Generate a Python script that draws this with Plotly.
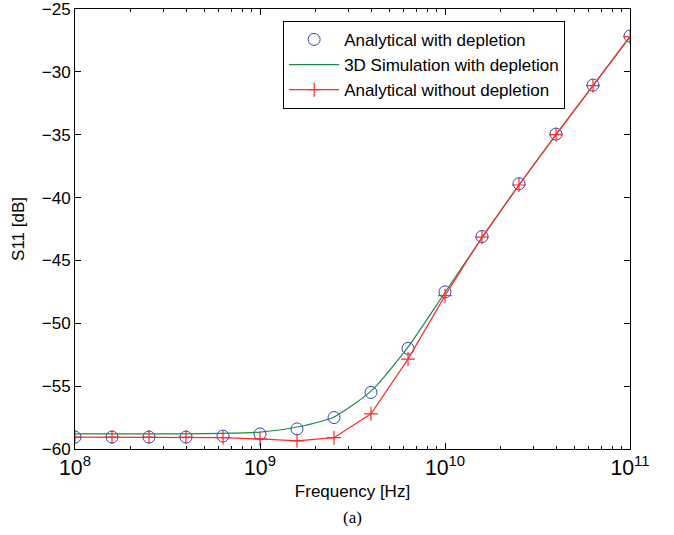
import plotly.graph_objects as go

freq_exp = [8.0, 8.2, 8.4, 8.6, 8.8, 9.0, 9.2, 9.4, 9.6, 9.8, 10.0, 10.2, 10.4, 10.6, 10.8, 11.0]
freq_hz = [10 ** e for e in freq_exp]

analytical_dep = [-59.05, -59.05, -59.05, -59.05, -58.97, -58.8, -58.4, -57.5, -55.5, -52.0,
                  -47.5, -43.1, -38.9, -34.95, -31.05, -27.15]
sim_dep = [-58.8, -58.8, -58.8, -58.8, -58.75, -58.65, -58.25, -57.45, -55.4, -51.9,
           -47.55, -43.2, -39.0, -35.0, -31.1, -27.2]
analytical_nodep = [-59.05, -59.05, -59.05, -59.05, -59.1, -59.2, -59.35, -59.1, -57.2, -52.85,
                    -47.8, -43.15, -39.0, -35.0, -31.1, -27.2]

font_family = "Liberation Sans, Arial, sans-serif"
fs = 17

fig = go.Figure()
fig.add_trace(go.Scatter(
    x=freq_hz, y=analytical_dep, mode="markers", name="Analytical with depletion",
    marker=dict(symbol="circle-open", size=12, color="#2a44b8", line=dict(width=1, color="#2a44b8")),
))
fig.add_trace(go.Scatter(
    x=freq_hz, y=sim_dep, mode="lines", name="3D Simulation with depletion",
    line=dict(color="#1a8a4a", width=1.2, shape="spline", smoothing=0.6),
))
fig.add_trace(go.Scatter(
    x=freq_hz, y=analytical_nodep, mode="lines+markers", name="Analytical without depletion",
    line=dict(color="#ff2a2a", width=1.2),
    marker=dict(symbol="cross-thin", size=10, color="#ff2a2a", line=dict(width=1.2, color="#ff2a2a")),
))

axis_common = dict(
    showline=True, linecolor="black", linewidth=1, mirror="ticks",
    ticks="inside", ticklen=6, tickcolor="black", showgrid=False, zeroline=False,
    tickfont=dict(family=font_family, size=fs, color="black"),
    automargin=False, ticklabeloverflow="allow",
)

fig.update_xaxes(
    type="log", range=[8, 11], dtick=1, exponentformat="power",
    title=dict(text="Frequency [Hz]", font=dict(family=font_family, size=fs, color="black"), standoff=6),
    minor=dict(ticks="inside", ticklen=3, tickcolor="black", dtick="D1", showgrid=False),
    **axis_common,
)
fig.update_yaxes(
    range=[-60, -25], dtick=5,
    title=dict(text="S11 [dB]", font=dict(family=font_family, size=fs, color="black"), standoff=12),
    **axis_common,
)

fig.update_layout(
    width=674, height=535,
    margin=dict(l=75, r=44, t=9, b=86),
    paper_bgcolor="white", plot_bgcolor="white",
    font=dict(family=font_family, size=fs, color="black"),
    legend=dict(
        x=0.375, y=0.973, xanchor="left", yanchor="top",
        bordercolor="black", borderwidth=1, bgcolor="white",
        font=dict(family=font_family, size=fs, color="black"),
        itemwidth=50, tracegroupgap=0,
    ),
    annotations=[dict(
        text="(a)", x=0.5, y=-0.155, xref="paper", yref="paper", yanchor="middle",
        showarrow=False, font=dict(family="Liberation Serif, Times New Roman, serif", size=17, color="black"),
    )],
)

fig.write_html("out.html", config={"displayModeBar": False},
               post_script="document.body.style.margin='0';")
